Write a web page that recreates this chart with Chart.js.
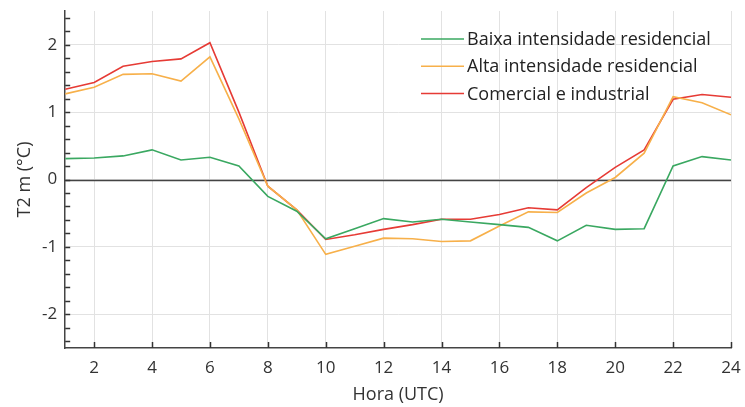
<!DOCTYPE html>
<html>
<head>
<meta charset="utf-8">
<script src="https://cdn.jsdelivr.net/npm/chart.js@4/dist/chart.umd.min.js"></script>
<style>
  html, body { margin: 0; padding: 0; background: #fff; }
  #wrap { width: 745px; height: 407px; }
</style>
</head>
<body>
<div id="wrap"><canvas id="c" width="745" height="407"></canvas></div>
<script>
var hours = [1,2,3,4,5,6,7,8,9,10,11,12,13,14,15,16,17,18,19,20,21,22,23,24];
var baixa = [0.31,0.32,0.35,0.44,0.29,0.33,0.20,-0.25,-0.47,-0.88,-0.73,-0.58,-0.63,-0.59,-0.63,-0.67,-0.71,-0.91,-0.68,-0.74,-0.73,0.20,0.34,0.29];
var alta = [1.27,1.37,1.56,1.57,1.46,1.82,0.90,-0.10,-0.45,-1.11,-0.99,-0.87,-0.88,-0.92,-0.91,-0.69,-0.48,-0.49,-0.20,0.03,0.39,1.23,1.14,0.96];
var comercial = [1.34,1.44,1.68,1.75,1.79,2.03,1.00,-0.10,-0.45,-0.89,-0.82,-0.74,-0.67,-0.59,-0.59,-0.52,-0.42,-0.45,-0.12,0.18,0.44,1.19,1.26,1.22];
var seriesNames = ['Baixa intensidade residencial', 'Alta intensidade residencial', 'Comercial e industrial'];
var xTicks = [2,4,6,8,10,12,14,16,18,20,22,24];
var yTicks = [-2,-1,0,1,2];

var colors = ['#3aa861', '#f7b04a', '#e63b35'];
var FONT = '"Open Sans", "DejaVu Sans", sans-serif';

function pts(vals) {
  return hours.map(function(h, i) { return { x: h, y: vals[i] }; });
}

// draws inward tick marks, the zero line and the in-plot legend
var extras = {
  id: 'extras',
  beforeDatasetsDraw: function(chart) {
    var ctx = chart.ctx, a = chart.chartArea;
    var xs = chart.scales.x, ys = chart.scales.y;
    ctx.save();
    ctx.strokeStyle = '#444';
    ctx.lineWidth = 1.5;
    var y0 = Math.round(ys.getPixelForValue(0)) + 0.5;
    ctx.beginPath(); ctx.moveTo(a.left, y0); ctx.lineTo(a.right, y0); ctx.stroke();

    ctx.strokeStyle = '#333';
    // y minor ticks every 0.2
    for (var v = -2.4; v <= 2.41; v += 0.2) {
      var py = Math.round(ys.getPixelForValue(v)) + 0.5;
      ctx.beginPath(); ctx.moveTo(a.left, py); ctx.lineTo(a.left + 5, py); ctx.stroke();
    }
    // x ticks pointing up
    xTicks.forEach(function(h) {
      var px = Math.round(xs.getPixelForValue(h)) + 0.5;
      ctx.beginPath(); ctx.moveTo(px, a.bottom); ctx.lineTo(px, a.bottom - 6); ctx.stroke();
    });
    ctx.restore();
  },
  afterDatasetsDraw: function(chart) {
    var ctx = chart.ctx;
    ctx.save();
    ctx.font = '18px ' + FONT;
    ctx.textBaseline = 'middle';
    chart.data.datasets.forEach(function(ds, i) {
      var y = 39 + i * 27.2;
      ctx.strokeStyle = ds.borderColor;
      ctx.lineWidth = 1.5;
      ctx.beginPath(); ctx.moveTo(421, y); ctx.lineTo(464, y); ctx.stroke();
      ctx.fillStyle = '#222';
      ctx.fillText(ds.label, 467, y + 1);
    });
    ctx.restore();
  }
};

function noPad(s) {
  s.paddingTop = 0; s.paddingBottom = 0; s.paddingLeft = 0; s.paddingRight = 0;
}

new Chart(document.getElementById('c'), {
  type: 'line',
  data: {
    datasets: [
      { label: seriesNames[0], data: pts(baixa), borderColor: colors[0] },
      { label: seriesNames[1], data: pts(alta), borderColor: colors[1] },
      { label: seriesNames[2], data: pts(comercial), borderColor: colors[2] }
    ]
  },
  options: {
    responsive: false,
    animation: false,
    layout: { padding: { left: 0, right: 14, top: 11, bottom: 0 } },
    elements: {
      line: { borderWidth: 1.6, tension: 0, fill: false },
      point: { radius: 0 }
    },
    plugins: { legend: { display: false }, tooltip: { enabled: false } },
    scales: {
      x: {
        type: 'linear',
        min: 1, max: 24,
        afterBuildTicks: function(s) { s.ticks = xTicks.map(function(v) { return { value: v }; }); },
        afterFit: noPad,
        grid: { color: '#e2e2e2', lineWidth: 1, drawTicks: false },
        border: { color: '#444', width: 1.5 },
        ticks: { color: '#333', font: { family: FONT, size: 17, lineHeight: 1.0 }, padding: 12, maxRotation: 0 },
        title: { display: true, text: 'Hora (UTC)', color: '#333', font: { family: FONT, size: 18, lineHeight: 1.0 }, padding: { top: -3, bottom: 3 } }
      },
      y: {
        min: -2.5, max: 2.5,
        afterBuildTicks: function(s) { s.ticks = yTicks.map(function(v) { return { value: v }; }); },
        afterFit: noPad,
        grid: { color: '#e2e2e2', lineWidth: 1, drawTicks: false },
        border: { color: '#444', width: 1.5 },
        ticks: { color: '#333', font: { family: FONT, size: 17 }, padding: 8 },
        title: { display: true, text: 'T2 m (°C)', color: '#333', font: { family: FONT, size: 18, lineHeight: 1.0 }, padding: { top: 16, bottom: 0 } }
      }
    }
  },
  plugins: [extras]
});
</script>
</body>
</html>
